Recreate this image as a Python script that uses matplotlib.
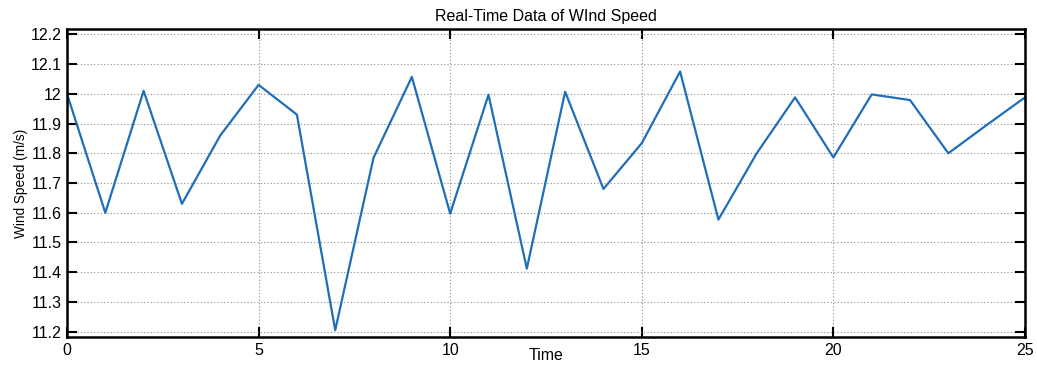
import matplotlib.pyplot as plt

plt.rcParams['font.family'] = ['Liberation Sans', 'DejaVu Sans']

time = list(range(26))
wind_speed = [12.00, 11.60, 12.01, 11.63, 11.86, 12.03, 11.93, 11.205, 11.785, 12.057,
              11.597, 11.997, 11.412, 12.007, 11.68, 11.834, 12.075, 11.577, 11.80, 11.988,
              11.786, 11.998, 11.979, 11.80, 11.895, 11.988]

x_ticks = [0, 5, 10, 15, 20, 25]
y_ticks = [11.2, 11.3, 11.4, 11.5, 11.6, 11.7, 11.8, 11.9, 12.0, 12.1, 12.2]
y_tick_labels = ['11.2', '11.3', '11.4', '11.5', '11.6', '11.7', '11.8', '11.9', '12', '12.1', '12.2']

fig = plt.figure(figsize=(10.37, 3.65), dpi=100)
ax = fig.add_axes([0.0646, 0.0767, 0.9238, 0.8438])

ax.plot(time, wind_speed, color='#1f6eb8', linewidth=1.6)

ax.set_xlim(0, 25)
ax.set_ylim(11.182, 12.218)
ax.set_xticks(x_ticks)
ax.set_yticks(y_ticks)
ax.set_yticklabels(y_tick_labels)

ax.grid(True, color='#8c8c8c', linestyle=(0, (1, 2)), linewidth=0.8)
ax.tick_params(direction='in', length=7, width=1.5, labelsize=11.5,
               top=True, right=True, pad=4)
for s in ax.spines.values():
    s.set_linewidth(1.8)

ax.set_title('Real-Time Data of WInd Speed', fontsize=11.5, pad=6)
ax.set_xlabel('Time', fontsize=11.5, labelpad=-7)
ax.set_ylabel('Wind Speed (m/s)', fontsize=9.8, labelpad=2)

fig.savefig('out.png', dpi=100)
